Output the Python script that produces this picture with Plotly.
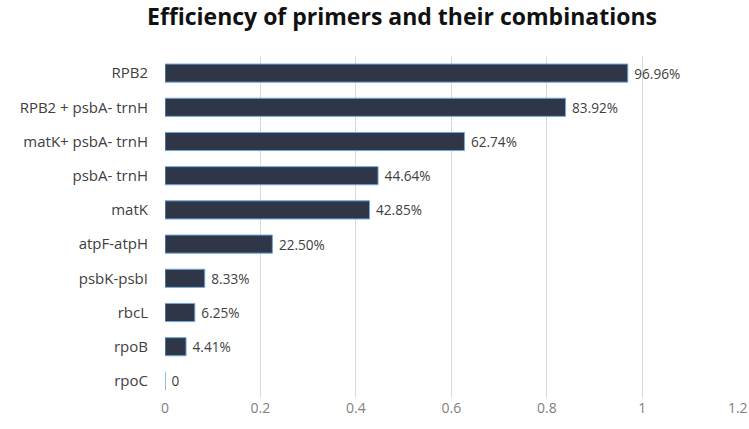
import plotly.graph_objects as go

categories = ["RPB2", "RPB2 + psbA- trnH", "matK+ psbA- trnH", "psbA- trnH", "matK",
              "atpF-atpH", "psbK-psbI", "rbcL", "rpoB", "rpoC"]
values = [0.9696, 0.8392, 0.6274, 0.4464, 0.4285, 0.2250, 0.0833, 0.0625, 0.0441, 0.0]
value_labels = ["96.96%", "83.92%", "62.74%", "44.64%", "42.85%", "22.50%", "8.33%", "6.25%", "4.41%", "0"]
x_ticks = [0, 0.2, 0.4, 0.6, 0.8, 1.0, 1.2]
x_tick_labels = ["0", "0.2", "0.4", "0.6", "0.8", "1", "1.2"]

fig = go.Figure(go.Bar(
    x=values, y=categories, orientation="h",
    marker=dict(color="#2e3648", line=dict(color="#6fa8dc", width=1)),
    text=[" " + t for t in value_labels], textposition="outside", cliponaxis=False,
    textfont=dict(size=15, color="#404040", family="Open Sans"),
))

fig.update_layout(
    width=749, height=429,
    margin=dict(l=165, r=11, t=56, b=31, autoexpand=False),
    paper_bgcolor="white", plot_bgcolor="white",
    bargap=0.47,
    showlegend=False,
    title=dict(text="<b>Efficiency of primers and their combinations</b>",
               x=402/749, xanchor="center", y=1 - 9/429, yanchor="top",
               font=dict(size=23, color="#111111", family="Open Sans")),
    font=dict(family="Open Sans"),
)
fig.update_xaxes(range=[0, 1.2005], tickvals=x_ticks, ticktext=x_tick_labels,
                 showgrid=True, gridcolor="#d9d9d9", gridwidth=1,
                 zeroline=False, showline=False, automargin=False,
                 tickfont=dict(size=14, color="#7f7f7f"), fixedrange=True)
fig.update_yaxes(categoryorder="array", categoryarray=categories[::-1],
                 showgrid=False, showline=False, ticks="", automargin=False,
                 ticklabelstandoff=16,
                 tickfont=dict(size=15, color="#404040"))

# remove the default 8px page margin so the figure fills the window exactly
fig.write_html("out.html", config={"displayModeBar": False},
               post_script="document.body.style.margin='0';document.body.style.overflow='hidden';")
